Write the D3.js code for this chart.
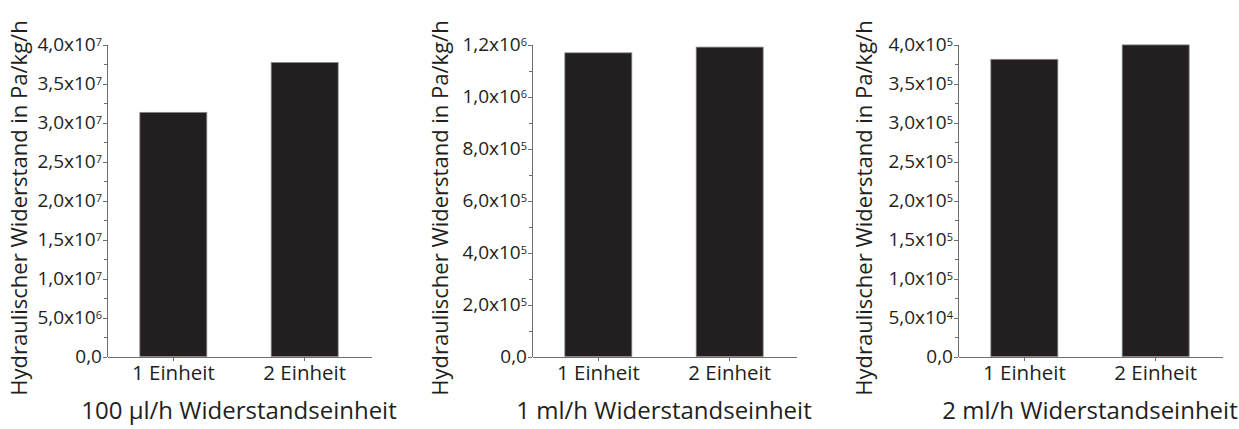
<!DOCTYPE html>
<html>
<head>
<meta charset="utf-8">
<script src="https://cdn.jsdelivr.net/npm/d3@7"></script>
<style>
  body { margin: 0; background: #fff; }
  svg text { font-family: "Open Sans", "DejaVu Sans", sans-serif; fill: #231f20; }
</style>
</head>
<body>
<div id="chart"></div>
<script>
// categories and values
var categories = ["1 Einheit", "2 Einheit"];
var values100ul = [3.13e7, 3.77e7];
var values1ml = [1.168e6, 1.19e6];
var values2ml = [3.81e5, 3.995e5];

var xTitles = ["100 µl/h Widerstandseinheit", "1 ml/h Widerstandseinheit", "2 ml/h Widerstandseinheit"];
var yTitle = "Hydraulischer Widerstand in Pa/kg/h";

// tick values of each y axis
var ticks100ul = [0, 5e6, 1e7, 1.5e7, 2e7, 2.5e7, 3e7, 3.5e7, 4e7];
var ticks1ml = [0, 2e5, 4e5, 6e5, 8e5, 1e6, 1.2e6];
var ticks2ml = [0, 5e4, 1e5, 1.5e5, 2e5, 2.5e5, 3e5, 3.5e5, 4e5];

var width = 1239, height = 429;
var axisColor = "#6d6e71";

var svg = d3.select("#chart").append("svg")
  .attr("width", width)
  .attr("height", height);

var panels = [
  { x0: 107, values: values100ul, ticks: ticks100ul, title: xTitles[0], yTitleX: 19 },
  { x0: 532, values: values1ml, ticks: ticks1ml, title: xTitles[1], yTitleX: 440 },
  { x0: 958, values: values2ml, ticks: ticks2ml, title: xTitles[2], yTitleX: 864 }
];

var plotW = 264, plotTop = 44.5, plotBottom = 356.5;

// "3,5x10^7" style label
function tickLabel(sel, v) {
  if (v === 0) { sel.text("0,0"); return; }
  var e = Math.floor(Math.log10(v) + 1e-9);
  var m = (v / Math.pow(10, e)).toFixed(1).replace(".", ",");
  sel.text(null);
  sel.append("tspan").text(m + "x10");
  sel.append("tspan").attr("dy", "-0.5em").style("font-size", "11px").text(e);
}

panels.forEach(function(p) {
  var g = svg.append("g").attr("transform", "translate(" + p.x0 + ",0)");

  var x = d3.scaleBand()
    .domain(categories)
    .range([0, plotW])
    .paddingInner(0.49)
    .paddingOuter(0.25);

  var yMax = p.ticks[p.ticks.length - 1];
  var y = d3.scaleLinear()
    .domain([0, yMax])
    .range([plotBottom, plotTop]);

  // bars
  g.selectAll("rect.bar")
    .data(p.values)
    .enter()
    .append("rect")
    .attr("class", "bar")
    .attr("x", function(d, i) { return x(categories[i]); })
    .attr("y", function(d) { return y(d); })
    .attr("width", x.bandwidth())
    .attr("height", function(d) { return plotBottom - y(d); })
    .style("fill", "#231f20")
    .style("stroke", "#8a8a8a")
    .style("stroke-width", "0.8px");

  // minor ticks halfway between the major ones
  var step = p.ticks[1] - p.ticks[0];
  var minor = p.ticks.slice(0, -1).map(function(t) { return t + step / 2; });
  var minorAxis = d3.axisLeft(y).tickValues(minor).tickSize(3).tickFormat("");
  var gm = g.append("g").call(minorAxis);
  gm.select("path").remove();

  var yAxis = d3.axisLeft(y).tickValues(p.ticks).tickSizeInner(4).tickSizeOuter(0).tickFormat("");
  var gy = g.append("g").call(yAxis);
  gy.selectAll(".tick text").remove();
  gy.selectAll(".tick").each(function(t) {
    d3.select(this).append("text")
      .attr("x", -5)
      .attr("dy", "0.34em")
      .attr("text-anchor", "end")
      .style("font-size", "19px")
      .call(tickLabel, t);
  });

  var xAxis = d3.axisBottom(x).tickSizeInner(4).tickSizeOuter(0).tickPadding(5);
  var gx = g.append("g").attr("transform", "translate(0," + plotBottom + ")").call(xAxis);
  gx.selectAll(".tick text")
    .attr("dy", "0.71em")
    .style("font-size", "20.5px");
  gx.attr("font-family", null).attr("font-size", null);
  gy.attr("font-family", null).attr("font-size", null);

  [gm, gy, gx].forEach(function(a) {
    a.selectAll("path, line")
      .style("stroke", axisColor)
      .style("stroke-width", "1px")
      .style("shape-rendering", "crispEdges");
  });

  // x axis title
  g.append("text")
    .attr("x", plotW / 2)
    .attr("y", 419)
    .attr("text-anchor", "middle")
    .style("font-size", "24px")
    .text(p.title);

  // y axis title
  svg.append("text")
    .attr("transform", "translate(" + (p.yTitleX + 8) + ",208) rotate(-90)")
    .attr("text-anchor", "middle")
    .style("font-size", "22px")
    .text(yTitle);
});
</script>
</body>
</html>
